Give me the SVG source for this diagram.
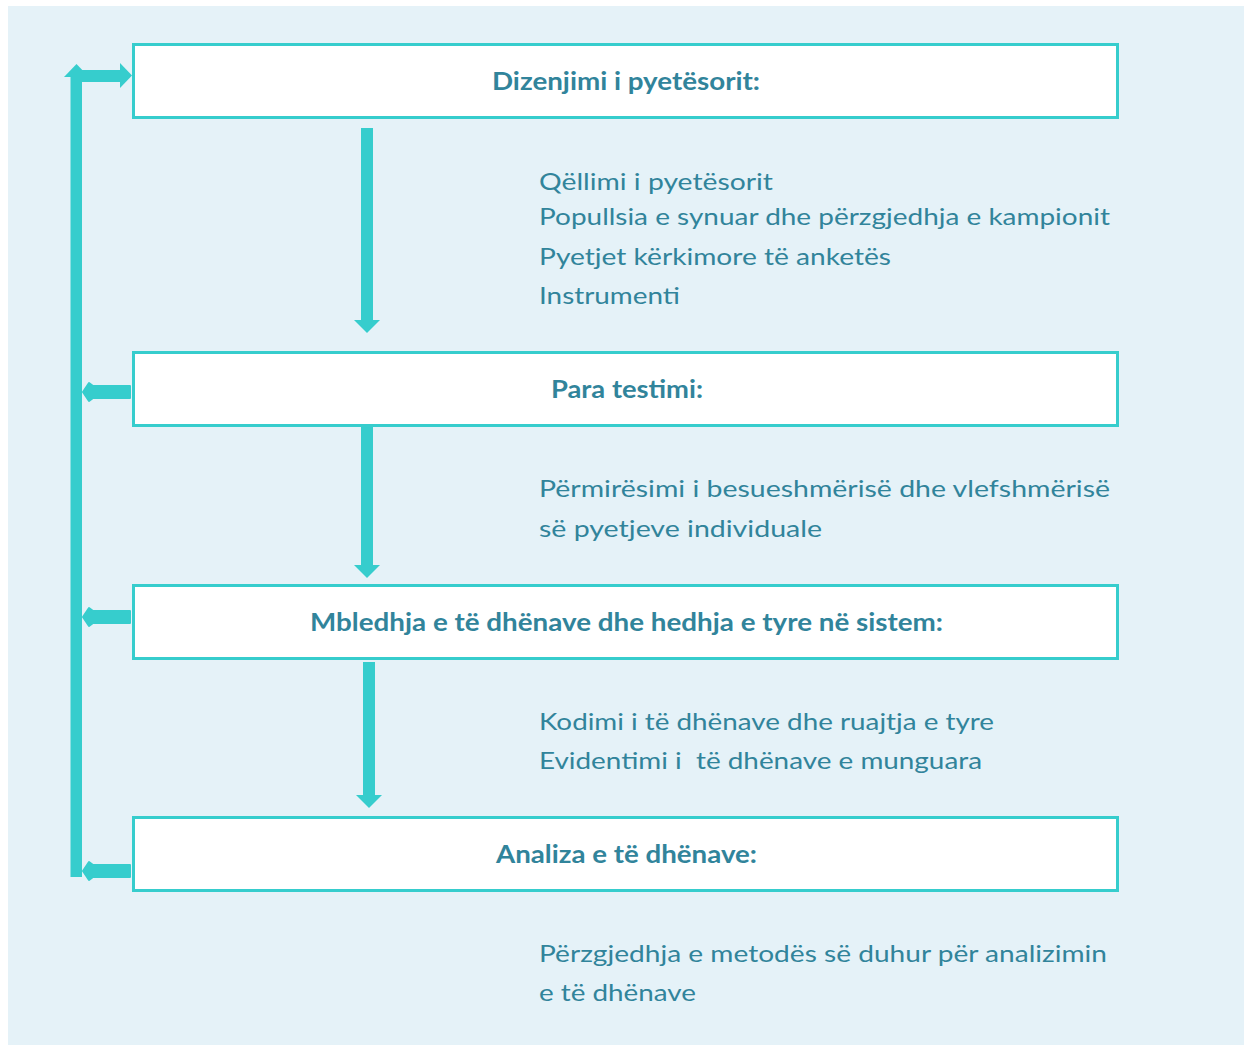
<svg xmlns="http://www.w3.org/2000/svg" width="1244" height="1045" viewBox="0 0 1244 1045">
  <style>
    .box { fill: #FFFFFF; stroke: #36CDCD; stroke-width: 3; }
    .arrow { fill: #36CDCD; }
    .title { font-family: Lato, "Open Sans", "Liberation Sans", sans-serif; font-weight: bold; font-size: 24px; fill: #31849B; text-anchor: middle; }
    .body { font-family: Lato, "Open Sans", "Liberation Sans", sans-serif; font-size: 24px; fill: #31849B; }
  </style>

  <!-- panel background -->
  <rect x="8" y="6" width="1236" height="1039" fill="#E5F2F8"/>

  <!-- connectors -->
  <g id="connectors" class="arrow">
    <!-- feedback spine with upward head -->
    <rect x="70.5" y="76" width="11.5" height="801"/>
    <polygon points="64,77 76.5,64 89,77"/>
    <!-- spine to first stage -->
    <rect x="82" y="70" width="39" height="12"/>
    <polygon points="120,63 132,75.5 120,88"/>
    <!-- stage outputs back to spine -->
    <path d="M130,386 L93,386 L89,383 L83,392 L89,401 L93,398 L130,398 Z" stroke="#36CDCD" stroke-width="2" stroke-linejoin="round"/>
    <path d="M130,611 L93,611 L89,608 L83,617 L89,626 L93,623 L130,623 Z" stroke="#36CDCD" stroke-width="2" stroke-linejoin="round"/>
    <path d="M130,865 L93,865 L89,862 L83,871 L89,880 L93,877 L130,877 Z" stroke="#36CDCD" stroke-width="2" stroke-linejoin="round"/>
    <!-- downward flow arrows -->
    <rect x="361" y="128" width="12" height="193"/>
    <polygon points="354,320 380,320 367,333"/>
    <rect x="361" y="427" width="12" height="139"/>
    <polygon points="354,565 380,565 367,578"/>
    <rect x="363" y="662" width="12" height="134"/>
    <polygon points="356,795 382,795 369,808"/>
  </g>

  <!-- stage 1 -->
  <g id="stage-design">
    <rect class="box" x="133.5" y="44.5" width="984" height="73"/>
    <text class="title" x="626" y="90" textLength="268" lengthAdjust="spacingAndGlyphs">Dizenjimi i pyetësorit:</text>
    <text class="body" x="539" y="190" textLength="234" lengthAdjust="spacingAndGlyphs">Qëllimi i pyetësorit</text>
    <text class="body" x="539" y="225" textLength="571" lengthAdjust="spacingAndGlyphs">Popullsia e synuar dhe përzgjedhja e kampionit</text>
    <text class="body" x="539" y="265" textLength="352" lengthAdjust="spacingAndGlyphs">Pyetjet kërkimore të anketës</text>
    <text class="body" x="539" y="304" textLength="141" lengthAdjust="spacingAndGlyphs">Instrumenti</text>
  </g>

  <!-- stage 2 -->
  <g id="stage-pretest">
    <rect class="box" x="133.5" y="352.5" width="984" height="73"/>
    <text class="title" x="627" y="398" textLength="152" lengthAdjust="spacingAndGlyphs">Para testimi:</text>
    <text class="body" x="539" y="497" textLength="571" lengthAdjust="spacingAndGlyphs">Përmirësimi i besueshmërisë dhe vlefshmërisë</text>
    <text class="body" x="539" y="537" textLength="283" lengthAdjust="spacingAndGlyphs">së pyetjeve individuale</text>
  </g>

  <!-- stage 3 -->
  <g id="stage-collection">
    <rect class="box" x="133.5" y="585.5" width="984" height="73"/>
    <text class="title" x="626.5" y="631" textLength="633" lengthAdjust="spacingAndGlyphs">Mbledhja e të dhënave dhe hedhja e tyre në sistem:</text>
    <text class="body" x="539" y="730" textLength="455" lengthAdjust="spacingAndGlyphs">Kodimi i të dhënave dhe ruajtja e tyre</text>
    <text class="body" x="539" y="769" textLength="443" lengthAdjust="spacingAndGlyphs" xml:space="preserve">Evidentimi i  të dhënave e munguara</text>
  </g>

  <!-- stage 4 -->
  <g id="stage-analysis">
    <rect class="box" x="133.5" y="817.5" width="984" height="73"/>
    <text class="title" x="626.5" y="863" textLength="261" lengthAdjust="spacingAndGlyphs">Analiza e të dhënave:</text>
    <text class="body" x="539" y="962" textLength="568" lengthAdjust="spacingAndGlyphs">Përzgjedhja e metodës së duhur për analizimin</text>
    <text class="body" x="539" y="1001" textLength="157" lengthAdjust="spacingAndGlyphs">e të dhënave</text>
  </g>
</svg>
